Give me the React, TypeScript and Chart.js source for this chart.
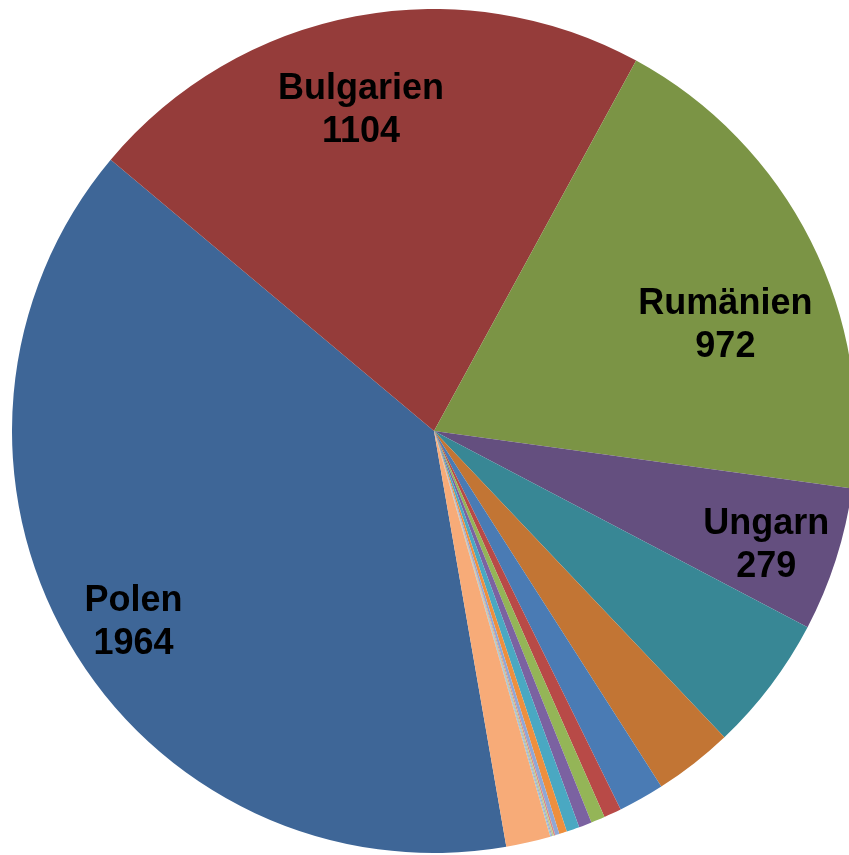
import React, { useEffect, useRef } from "react";
import { Chart, registerables } from "chart.js";

Chart.register(...registerables);

const countries = [
  "Polen", "Bulgarien", "Rumänien", "Ungarn", "Slowakei", "Tschechien",
  "Litauen", "Lettland", "Kroatien", "Slowenien", "Estland", "Griechenland",
  "Portugal", "Spanien", "Italien", "Frankreich", "Österreich", "Sonstige",
];
const counts = [1964, 1104, 972, 279, 264, 153, 89, 34, 27, 25, 25, 15, 8, 3, 3, 2, 2, 86];
const sliceColors = [
  "#3E6697", "#953C3A", "#7B9445", "#644F7F", "#388795", "#C27534",
  "#4A7BB4", "#B84A47", "#94B557", "#7B62A1", "#4AA8C2", "#EE8F3E",
  "#8FA8D6", "#D98A88", "#B8CF8E", "#AB9BC6", "#8FC8D8", "#F7AB78",
];
const labeled = [0, 1, 2, 3];
// label placement tweaks: [angle offset in degrees, radius fraction]
const labelPlace = [
  [-2.1, 0.84],
  [-2.0, 0.787],
  [6.3, 0.737],
  [0.7, 0.83],
];

const labelPlugin = {
  id: "sliceLabels",
  afterDatasetsDraw(chart: any) {
    const ctx = chart.ctx;
    const meta = chart.getDatasetMeta(0);
    ctx.save();
    ctx.font = "bold 36px 'Liberation Sans', Arial, sans-serif";
    ctx.fillStyle = "#000000";
    ctx.textAlign = "center";
    ctx.textBaseline = "middle";
    labeled.forEach((idx, k) => {
      const arc = meta.data[idx];
      const p = arc.getProps(["x", "y", "startAngle", "endAngle", "outerRadius"], true);
      const mid = (p.startAngle + p.endAngle) / 2 + (labelPlace[k][0] * Math.PI) / 180;
      const r = p.outerRadius * labelPlace[k][1];
      const cx = p.x + Math.cos(mid) * r;
      const cy = p.y + Math.sin(mid) * r;
      ctx.fillText(countries[idx], cx, cy - 18);
      ctx.fillText(String(counts[idx]), cx, cy + 25);
    });
    ctx.restore();
  },
};

export default function App() {
  const ref = useRef<HTMLCanvasElement>(null);
  useEffect(() => {
    document.body.style.margin = "0";
    document.body.style.overflow = "hidden";
    const chart = new Chart(ref.current as HTMLCanvasElement, {
      type: "pie",
      data: {
        labels: countries,
        datasets: [
          {
            data: counts,
            backgroundColor: sliceColors,
            borderWidth: 0,
          },
        ],
      },
      options: {
        animation: false,
        responsive: true,
        maintainAspectRatio: false,
        rotation: 170.13,
        layout: { padding: 0 },
        plugins: {
          legend: { display: false },
          tooltip: { enabled: false },
        },
      },
      plugins: [labelPlugin],
    });
    return () => chart.destroy();
  }, []);
  return (
    <div style={{ position: "fixed", left: 0, top: 0, width: 849, height: 855, overflow: "hidden", background: "#fff" }}>
      <div style={{ position: "absolute", left: 12, top: 9, width: 844, height: 844 }}>
        <canvas ref={ref} />
      </div>
    </div>
  );
}
